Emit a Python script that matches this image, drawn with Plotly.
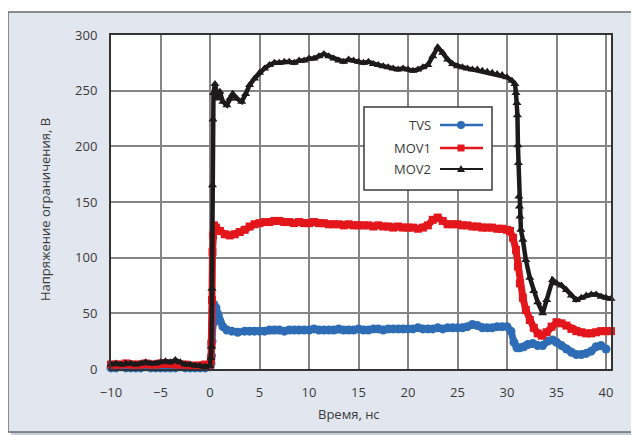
import plotly.graph_objects as go

# ---- data ----
pre_t = [-10, -9.5, -9, -8.5, -8, -7.5, -7, -6.5, -6, -5.5, -5, -4.5, -4, -3.5, -3, -2.5, -2, -1.5, -1, -0.5, 0]

tvs_t = pre_t + [0.1, 0.15, 0.2, 0.25, 0.3, 0.4, 0.6, 0.8, 1.0, 1.3, 1.7, 2.2, 2.8, 3.5, 4.0, 4.5, 5.0, 5.5, 6.0,
                 6.5, 7.0, 7.5, 8.0, 8.5, 9.0, 9.5, 10.0, 10.5, 11.0, 11.5, 12.0, 12.5, 13.0, 13.5, 14.0, 14.5,
                 15.0, 15.5, 16.0, 16.5, 17.0, 17.5, 18.0, 18.5, 19.0, 19.5, 20.0, 20.5, 21.0, 21.5, 22.0, 22.5,
                 23.0, 23.5, 24.0, 24.5, 25.0, 25.5, 26.0, 26.5, 27.0, 27.5, 28.0, 28.5, 29.0, 29.5, 30.0, 30.4,
                 30.7, 31.0, 31.3, 31.7, 32.1, 32.6, 33.1, 33.6, 34.1, 34.6, 35.0, 35.5, 36.0, 36.5, 37.0, 37.5,
                 38.0, 38.5, 39.0, 39.5, 40.0, 40.5]
tvs_v = [1, 1, 2, 1, 1, 1, 1, 2, 1, 1, 1, 1, 1, 1, 2, 1, 1, 1, 1, 1, 2,
         5, 12, 25, 40, 52, 58, 55, 49, 43, 38, 35, 34, 33, 34, 34, 34, 34, 34, 35,
         35, 35, 34, 35, 35, 35, 35, 35, 36, 35, 35, 35, 35, 36, 35, 35,
         35, 36, 35, 35, 36, 36, 35, 36, 36, 36, 36, 36, 36, 37, 36, 36,
         36, 37, 36, 37, 37, 37, 37, 38, 40, 39, 37, 37, 37, 38, 38, 38,
         34, 24, 19, 19, 20, 22, 23, 21, 21, 25, 26, 24, 21, 18, 15, 13,
         13, 14, 16, 20, 21, 18]

mov1_t = pre_t + [0.1, 0.15, 0.2, 0.25, 0.3, 0.4, 0.6, 1.0, 1.5, 2.0, 2.5, 3.0, 3.5, 4.0, 4.5, 5.0, 5.5, 6.0,
                  6.5, 7.0, 7.5, 8.0, 8.5, 9.0, 9.5, 10.0, 10.5, 11.0, 11.5, 12.0, 12.5, 13.0, 13.5, 14.0, 14.5,
                  15.0, 15.5, 16.0, 16.5, 17.0, 17.5, 18.0, 18.5, 19.0, 19.5, 20.0, 20.5, 21.0, 21.5, 22.0, 22.5,
                  23.0, 23.5, 24.0, 24.5, 25.0, 25.5, 26.0, 26.5, 27.0, 27.5, 28.0, 28.5, 29.0, 29.5, 30.0, 30.3,
                  30.6, 30.9, 31.1, 31.3, 31.6, 31.9, 32.3, 32.7, 33.1, 33.5, 34.0, 34.5, 35.0, 35.5, 36.0, 36.5,
                  37.0, 37.5, 38.0, 38.5, 39.0, 39.5, 40.0, 40.5]
mov1_v = [4, 4, 4, 5, 4, 4, 4, 5, 4, 4, 5, 5, 5, 4, 4, 4, 3, 3, 3, 4, 4,
          8, 22, 62, 105, 120, 129, 127, 124, 121, 120, 121, 123, 125, 128, 130, 131, 132, 132,
          133, 133, 132, 132, 131, 132, 131, 131, 132, 131, 131, 130, 130, 130, 129, 130, 129,
          129, 129, 129, 128, 129, 128, 128, 127, 128, 127, 127, 127, 126, 127, 129, 134,
          136, 133, 130, 130, 130, 129, 129, 128, 128, 127, 127, 127, 126, 126, 125, 124,
          118, 107, 92, 77, 64, 53, 44, 37, 32, 30, 33, 38, 42, 41, 39, 36,
          34, 33, 32, 32, 33, 34, 34, 34]

mov2_t = pre_t + [0.1, 0.15, 0.2, 0.25, 0.3, 0.35, 0.5, 0.8, 1.0, 1.3, 1.7, 2.0, 2.3, 2.7, 3.2, 3.6, 4.0, 4.5,
                  5.0, 5.5, 6.0, 6.5, 7.0, 7.5, 8.0, 8.5, 9.0, 9.5, 10.0, 10.5, 11.0, 11.5, 12.0, 12.5, 13.0,
                  13.5, 14.0, 14.5, 15.0, 15.5, 16.0, 16.5, 17.0, 17.5, 18.0, 18.5, 19.0, 19.5, 20.0, 20.5,
                  21.0, 21.5, 22.0, 22.5, 23.0, 23.5, 24.0, 24.5, 25.0, 25.5, 26.0, 26.5, 27.0, 27.5, 28.0,
                  28.5, 29.0, 29.5, 30.0, 30.5, 30.8, 30.9, 31.0, 31.05, 31.1, 31.15, 31.2, 31.25, 31.3, 31.4,
                  31.6, 31.9, 32.3, 32.7, 33.1, 33.6, 34.0, 34.6, 35.0, 35.5, 36.0, 36.5, 37.0, 37.5, 38.0,
                  38.5, 39.0, 39.5, 40.0, 40.5]
mov2_v = [4, 5, 4, 5, 5, 4, 5, 6, 5, 5, 6, 7, 6, 8, 6, 4, 4, 3, 3, 2, 3,
          10, 20, 72, 165, 224, 248, 256, 243, 249, 240, 237, 243, 247, 243, 240, 247, 255, 261,
          266, 270, 273, 275, 275, 276, 276, 275, 277, 277, 279, 279, 281, 283, 281, 279, 277,
          276, 278, 277, 276, 275, 276, 274, 273, 272, 271, 270, 269, 270, 269, 268,
          269, 271, 273, 281, 289, 284, 278, 274, 272, 271, 270, 269, 269, 268, 267,
          266, 265, 264, 262, 259, 256, 248, 239, 228, 201, 185, 155, 146, 137, 125,
          116, 98, 82, 70, 60, 50, 62, 80, 77, 75, 71, 66, 62, 64, 66,
          67, 67, 65, 64, 63]

series_names = ["TVS", "MOV1", "MOV2"]
x_ticks = [-10, -5, 0, 5, 10, 15, 20, 25, 30, 35, 40]
y_ticks = [0, 50, 100, 150, 200, 250, 300]
x_title = "Время, нс"
y_title = "Напряжение ограничения, В"

colors = ["#2e6db6", "#e3161c", "#1c1a1a"]
symbols = ["circle", "square", "triangle-up"]

FONT = "Open Sans"
fig = go.Figure()
fig.add_trace(go.Scatter(x=tvs_t, y=tvs_v, name=series_names[0], mode="lines+markers",
                         line=dict(color=colors[0], width=7), marker=dict(symbol=symbols[0], size=9, color=colors[0]),
                         cliponaxis=False))
fig.add_trace(go.Scatter(x=mov1_t, y=mov1_v, name=series_names[1], mode="lines+markers",
                         line=dict(color=colors[1], width=7), marker=dict(symbol=symbols[1], size=8, color=colors[1]),
                         cliponaxis=False))
fig.add_trace(go.Scatter(x=mov2_t, y=mov2_v, name=series_names[2], mode="lines+markers",
                         line=dict(color=colors[2], width=4.5), marker=dict(symbol=symbols[2], size=8, color=colors[2]),
                         cliponaxis=False))

# page body has an 8px default margin: compensate
OFF = 8
W, H = 639 - OFF, 435 - OFF
PL, PT, PW, PH = 111, 35, 500, 334          # plot area in screen pixels
L, T = PL - OFF, PT - OFF
R, B = W - L - PW, H - T - PH
def px(x):
    return (x - PL) / PW
def py(y):
    return (PT + PH - y) / PH

shapes = []
shapes.append(dict(type="rect", xref="paper", yref="paper", x0=px(11), x1=px(640), y0=py(436), y1=py(15),
                   fillcolor="#c9ced6", line=dict(width=0), layer="below"))
shapes.append(dict(type="rect", xref="paper", yref="paper", x0=px(8), x1=px(634), y0=py(432), y1=py(12),
                   fillcolor="#e2e7ef", line=dict(color="#6a6d72", width=1.5), layer="below"))
shapes.append(dict(type="rect", xref="paper", yref="paper", x0=0, x1=1, y0=0, y1=1,
                   fillcolor="white", line=dict(width=0), layer="below"))
shapes.append(dict(type="rect", xref="paper", yref="paper", x0=px(364), x1=px(492), y0=py(190), y1=py(107),
                   fillcolor="white", line=dict(color="#3a3a3a", width=1.5), layer="above"))
rows = [125, 148, 169]
annotations = []
for i, r in enumerate(rows):
    annotations.append(dict(text=series_names[i], xref="paper", yref="paper", x=px(433), y=py(r),
                            xanchor="right", yanchor="middle", showarrow=False,
                            font=dict(family=FONT, size=13, color="#3a3a3a")))
    shapes.append(dict(type="line", xref="paper", yref="paper", x0=px(440), x1=px(483), y0=py(r), y1=py(r),
                       line=dict(color=colors[i], width=2.5 if i < 2 else 2), layer="above"))
cx = 461
shapes.append(dict(type="circle", xref="paper", yref="paper", x0=px(cx - 4), x1=px(cx + 4),
                   y0=py(rows[0] + 4), y1=py(rows[0] - 4), fillcolor=colors[0], line=dict(width=0), layer="above"))
shapes.append(dict(type="rect", xref="paper", yref="paper", x0=px(cx - 3.5), x1=px(cx + 3.5),
                   y0=py(rows[1] + 3.5), y1=py(rows[1] - 3.5), fillcolor=colors[1], line=dict(width=0), layer="above"))
tri = "M {} {} L {} {} L {} {} Z".format(px(cx - 4), py(rows[2] + 3), px(cx + 4), py(rows[2] + 3), px(cx), py(rows[2] - 4))
shapes.append(dict(type="path", xref="paper", yref="paper", path=tri, fillcolor=colors[2],
                   line=dict(width=0), layer="above"))

annotations.append(dict(text=x_title, xref="paper", yref="paper", x=px(349), y=py(414),
                        xanchor="center", yanchor="middle", showarrow=False,
                        font=dict(family=FONT, size=13, color="#3a3a3a")))
annotations.append(dict(text=y_title, xref="paper", yref="paper", x=px(45), y=py(210), textangle=-90,
                        xanchor="center", yanchor="middle", showarrow=False,
                        font=dict(family=FONT, size=13, color="#3a3a3a")))

fig.update_layout(
    width=W, height=H, margin=dict(l=L, r=R, t=T, b=B, autoexpand=False),
    paper_bgcolor="white", plot_bgcolor="rgba(0,0,0,0)",
    showlegend=False, shapes=shapes, annotations=annotations,
    font=dict(family=FONT, size=13, color="#3a3a3a"),
)
fig.update_xaxes(range=[-10, 40.5], tickvals=x_ticks,
                 ticktext=[str(v).replace("-", "−") for v in x_ticks],
                 showgrid=True, gridcolor="#858585", gridwidth=2, zeroline=False, automargin=False,
                 showline=True, linecolor="#333333", linewidth=2, mirror=True, ticks="", ticklabelstandoff=10)
fig.update_yaxes(range=[0, 300], tickvals=y_ticks, showgrid=True, gridcolor="#858585", gridwidth=2, zeroline=False,
                 automargin=False,
                 showline=True, linecolor="#333333", linewidth=2, mirror=True, ticks="", ticklabelstandoff=9)

fig.write_html("out.html")
